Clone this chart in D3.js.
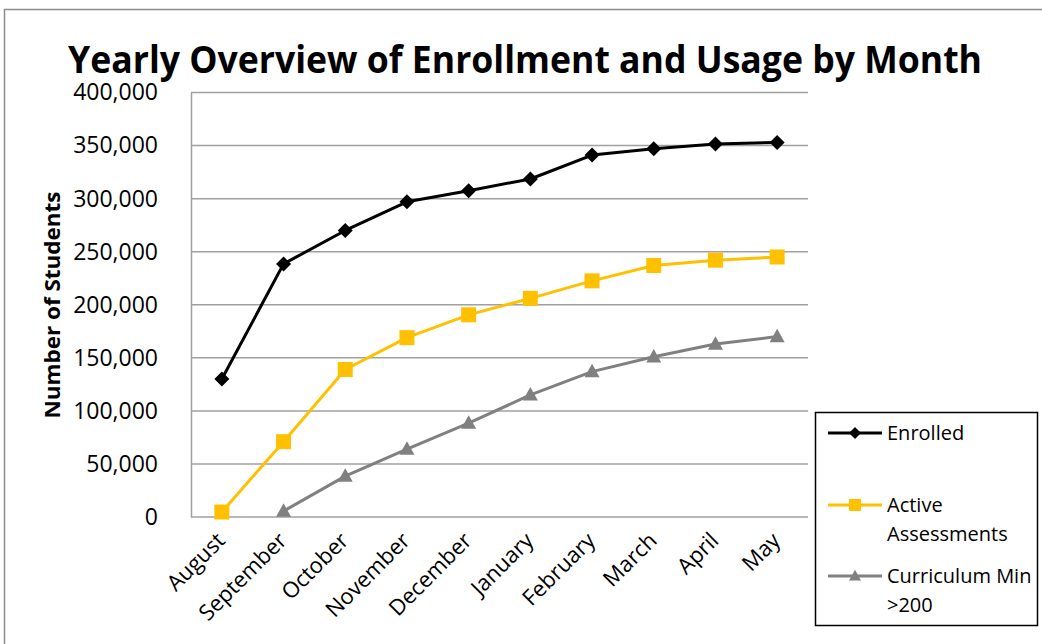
<!DOCTYPE html>
<html>
<head>
<meta charset="utf-8">
<script src="https://cdn.jsdelivr.net/npm/d3@7"></script>
<style>
  body { margin: 0; background: #fff; }
  svg { display: block; font-family: "Open Sans", sans-serif; }
</style>
</head>
<body>
<div id="chart"></div>
<script>
const months = ["August", "September", "October", "November", "December",
  "January", "February", "March", "April", "May"];
const enrolled = [130000, 238500, 270000, 297000, 307500, 318500, 341000, 347000, 351500, 353000];
const active = [4700, 71000, 139000, 169000, 190500, 206000, 222500, 237000, 242000, 245000];
const curriculum = [null, 5500, 38500, 64000, 88500, 115000, 137000, 151000, 163000, 170000];
const yTicks = [0, 50000, 100000, 150000, 200000, 250000, 300000, 350000, 400000];

const seriesNames = ["Enrolled", "Active Assessments", "Curriculum Min >200"];
const legendLines = [["Enrolled"], ["Active", "Assessments"], ["Curriculum Min", ">200"]];

const W = 1042, H = 644;
const GRID = "#a0a0a0";

const series = [
  { name: seriesNames[0], values: enrolled, color: "#000000", marker: "diamond" },
  { name: seriesNames[1], values: active, color: "#ffc000", marker: "square" },
  { name: seriesNames[2], values: curriculum, color: "#808080", marker: "triangle" }
];

const svg = d3.select("#chart").append("svg")
  .attr("width", W).attr("height", H);

// outer chart frame
svg.append("rect")
  .attr("x", 4.5).attr("y", 9.5)
  .attr("width", 1100).attr("height", 700)
  .attr("fill", "none").attr("stroke", "#8c8c8c").attr("stroke-width", 1.5);

svg.append("text")
  .attr("x", 525).attr("y", 73)
  .attr("text-anchor", "middle")
  .attr("font-size", 37).attr("font-weight", "bold")
  .attr("textLength", 914).attr("lengthAdjust", "spacingAndGlyphs")
  .text("Yearly Overview of Enrollment and Usage by Month");

const x = d3.scalePoint().domain(months).range([191, 808]).padding(0.5);
const y = d3.scaleLinear().domain([0, 400000]).range([517, 92.5]);

// gridlines
svg.append("g")
  .selectAll("line")
  .data(yTicks)
  .join("line")
  .attr("x1", 191).attr("x2", 808)
  .attr("y1", d => y(d)).attr("y2", d => y(d))
  .attr("stroke", GRID).attr("stroke-width", 1.5);

// y axis
const yAxis = svg.append("g")
  .attr("transform", "translate(191,0)")
  .call(d3.axisLeft(y).tickValues(yTicks).tickSize(0).tickPadding(33)
    .tickFormat(d3.format(",")));
yAxis.select(".domain").attr("stroke", GRID).attr("stroke-width", 1.5);
yAxis.selectAll("text")
  .attr("font-size", 23).attr("fill", "#000")
  .attr("font-family", "Open Sans, sans-serif");

// x axis
const xAxis = svg.append("g")
  .attr("transform", "translate(0,517)")
  .call(d3.axisBottom(x).tickSize(0).tickPadding(0));
xAxis.select(".domain").remove();
xAxis.selectAll("text")
  .attr("font-size", 22).attr("fill", "#000")
  .attr("font-family", "Open Sans, sans-serif")
  .attr("text-anchor", "end")
  .attr("dy", 0)
  .attr("transform", "translate(4,25) rotate(-45)");

svg.append("text")
  .attr("transform", "translate(60,305) rotate(-90)")
  .attr("text-anchor", "middle")
  .attr("font-size", 22).attr("font-weight", "bold")
  .attr("textLength", 227).attr("lengthAdjust", "spacingAndGlyphs")
  .text("Number  of Students");

function markerPath(type, s) {
  if (type === "diamond") return `M0,${-s}L${s},0L0,${s}L${-s},0Z`;
  if (type === "square") return `M${-s},${-s}H${s}V${s}H${-s}Z`;
  return `M0,${-s * 1.05}L${s},${s * 0.75}H${-s}Z`;
}

const line = d3.line()
  .defined(d => d.v != null)
  .x(d => x(d.m)).y(d => y(d.v));

series.forEach(s => {
  const pts = months.map((m, i) => ({ m: m, v: s.values[i] }));
  svg.append("path")
    .datum(pts)
    .attr("d", line)
    .attr("fill", "none")
    .attr("stroke", s.color).attr("stroke-width", 3)
    .attr("stroke-linejoin", "round");
  svg.append("g").selectAll("path")
    .data(pts.filter(d => d.v != null))
    .join("path")
    .attr("transform", d => `translate(${x(d.m)},${y(d.v)})`)
    .attr("d", markerPath(s.marker, 7.5))
    .attr("fill", s.color);
});

// legend
const legend = svg.append("g");
legend.append("rect")
  .attr("x", 815.5).attr("y", 412.5)
  .attr("width", 222).attr("height", 213)
  .attr("fill", "#fff").attr("stroke", "#000").attr("stroke-width", 1.5);

const legendY = [433, 505, 576];
series.forEach((s, i) => {
  const g = legend.append("g").attr("transform", `translate(0,${legendY[i]})`);
  g.append("line")
    .attr("x1", 828).attr("x2", 882)
    .attr("stroke", s.color).attr("stroke-width", 3);
  g.append("path")
    .attr("transform", "translate(855,0)")
    .attr("d", markerPath(s.marker, 6))
    .attr("fill", s.color);
  g.selectAll("text")
    .data(legendLines[i])
    .join("text")
    .attr("x", 887)
    .attr("y", (d, j) => j * 29)
    .attr("dy", "0.35em")
    .attr("font-size", 20)
    .text(d => d);
});
</script>
</body>
</html>
